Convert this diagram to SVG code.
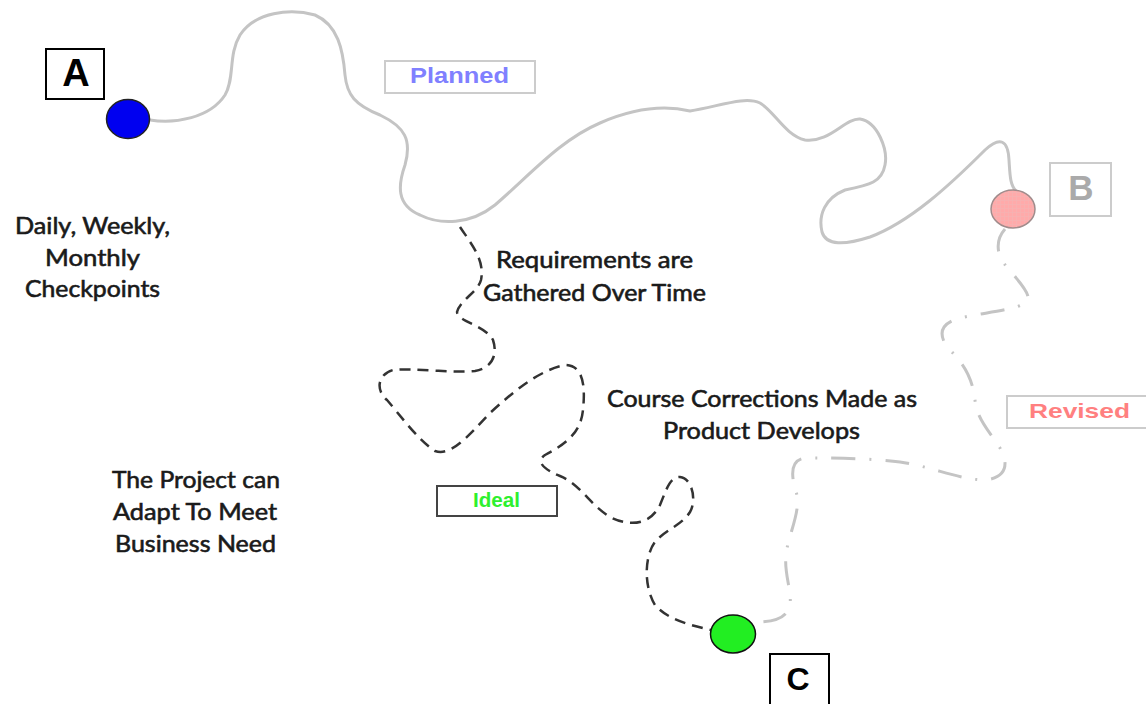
<svg xmlns="http://www.w3.org/2000/svg" width="1146" height="704" viewBox="0 0 1146 704">
<style>
.planned{fill:none;stroke:#c4c4c4;stroke-width:3;stroke-linecap:round}
.ideal{fill:none;stroke:#333;stroke-width:2.5;stroke-dasharray:11 7}
.revised{fill:none;stroke:#c4c4c4;stroke-width:3;stroke-dasharray:24 14 2 14}
.lbl{font-family:Lato,"Liberation Sans",sans-serif;font-size:23px;fill:#1a1a1a;stroke:#1a1a1a;stroke-width:0.6;text-anchor:middle}
.letter{font-family:"Liberation Sans",Arial,sans-serif;font-weight:bold;text-anchor:middle}
.tag{font-family:"Liberation Sans",Arial,sans-serif;font-weight:bold;text-anchor:middle}
</style>
<defs>
<pattern id="grid" width="4" height="4" patternUnits="userSpaceOnUse">
<rect width="4" height="4" fill="#ffaaaa"/>
<path d="M0,0.5H4M0.5,0V4" stroke="#f4b4b4" stroke-width="0.6"/>
</pattern>
</defs>
<rect width="1146" height="704" fill="#fff"/>
<g id="connectors">
<path class="planned" d="M150,120 C175,124 210,118 225,95 C235,78 228,55 240,35 C255,12 290,8 315,15 C338,25 343,50 345,75 C347,95 355,105 380,115 C405,127 412,140 405,165 C398,185 396,205 420,215 C440,225 470,225 495,205 C530,175 560,140 600,123 C630,110 660,104 690,111 C720,106 745,96 760,103 C775,112 785,135 805,140 C830,143 845,118 860,119 C878,122 888,150 885,165 C882,182 870,185 845,190 C825,198 818,215 822,232 C826,246 845,245 870,237 C910,222 950,185 985,150 C1000,136 1008,140 1009,160 C1010,175 1010,185 1016,191"/>
<path class="ideal" d="M460,227 C472,245 485,260 481,280 C478,292 460,300 457,312 C458,322 485,325 493,340 C498,355 492,368 475,371 C450,373 415,368 393,370 C378,374 375,390 387,400 C400,415 418,440 435,451 C450,456 465,440 490,413 C515,390 540,370 565,365 C585,365 585,390 583,410 C581,430 570,442 545,455 C535,462 545,470 560,476 C580,484 590,505 610,517 C630,527 650,525 660,505 C667,488 670,477 680,477 C692,478 697,500 690,512 C682,525 665,530 655,542 C645,555 643,585 655,605 C668,620 690,625 711,630"/>
<path class="revised" d="M1005,229 C998,237 995,250 1003,262 C1012,275 1030,290 1028,300 C1022,310 985,312 960,318 C940,323 938,335 948,348 C962,362 972,375 975,400 C977,420 990,432 1000,448 C1010,465 1005,478 985,480 C960,480 930,466 900,462 C870,458 830,458 805,458 C788,460 792,480 797,495 C800,515 788,535 786,555 C784,575 792,590 790,605 C787,620 770,622 756,622"/>
</g>
<g id="nodeA">
<rect x="46" y="49" width="58" height="50" fill="#fff" stroke="#000" stroke-width="2"/>
<text class="letter" x="76" y="86" font-size="38" fill="#000">A</text>
<ellipse cx="128" cy="119" rx="21.5" ry="19.5" fill="#0000f0" stroke="#222" stroke-width="1.5"/>
</g>
<g id="nodeB">
<ellipse cx="1013" cy="209" rx="22" ry="19" fill="url(#grid)" stroke="#a08c8c" stroke-width="1.5"/>
<rect x="1050" y="163" width="61" height="53" fill="#fff" stroke="#cccccc" stroke-width="2"/>
<text class="letter" x="1081" y="200" font-size="35" fill="#aaaaaa">B</text>
</g>
<g id="nodeC">
<ellipse cx="733" cy="634" rx="22.5" ry="19" fill="#22ee22" stroke="#111" stroke-width="1.5"/>
<rect x="770" y="654" width="59" height="60" fill="#fff" stroke="#000" stroke-width="2"/>
<text class="letter" x="798" y="690" font-size="32" fill="#000">C</text>
</g>
<g id="planned-label">
<rect x="385" y="61" width="150" height="32" fill="#fff" stroke="#cccccc" stroke-width="2"/>
<text class="tag" x="459.5" y="83" font-size="22" fill="#8080ff" textLength="99" lengthAdjust="spacingAndGlyphs">Planned</text>
</g>
<g id="revised-label">
<rect x="1007" y="396" width="145" height="32" fill="#fff" stroke="#cccccc" stroke-width="2"/>
<text class="tag" x="1079.5" y="418" font-size="21" fill="#ff8080" textLength="101" lengthAdjust="spacingAndGlyphs">Revised</text>
</g>
<g id="ideal-label">
<rect x="437" y="486" width="120" height="30" fill="#fff" stroke="#444" stroke-width="2"/>
<text class="tag" x="496.5" y="507" font-size="20" fill="#2ef02e" textLength="47" lengthAdjust="spacingAndGlyphs">Ideal</text>
</g>
<g id="checkpoints-text">
<text class="lbl" x="92.5" y="234" textLength="155" lengthAdjust="spacingAndGlyphs">Daily, Weekly,</text>
<text class="lbl" x="92.5" y="265.5" textLength="95" lengthAdjust="spacingAndGlyphs">Monthly</text>
<text class="lbl" x="92.5" y="297" textLength="135" lengthAdjust="spacingAndGlyphs">Checkpoints</text>
</g>
<g id="adapt-text">
<text class="lbl" x="196" y="488" textLength="168" lengthAdjust="spacingAndGlyphs">The Project can</text>
<text class="lbl" x="195" y="520" textLength="164" lengthAdjust="spacingAndGlyphs">Adapt To Meet</text>
<text class="lbl" x="195.5" y="552" textLength="161" lengthAdjust="spacingAndGlyphs">Business Need</text>
</g>
<g id="requirements-text">
<text class="lbl" x="594.5" y="268" textLength="197" lengthAdjust="spacingAndGlyphs">Requirements are</text>
<text class="lbl" x="594.5" y="301" textLength="223" lengthAdjust="spacingAndGlyphs">Gathered Over Time</text>
</g>
<g id="corrections-text">
<text class="lbl" x="762" y="407" textLength="310" lengthAdjust="spacingAndGlyphs">Course Corrections Made as</text>
<text class="lbl" x="761.5" y="439" textLength="197" lengthAdjust="spacingAndGlyphs">Product Develops</text>
</g>
</svg>
